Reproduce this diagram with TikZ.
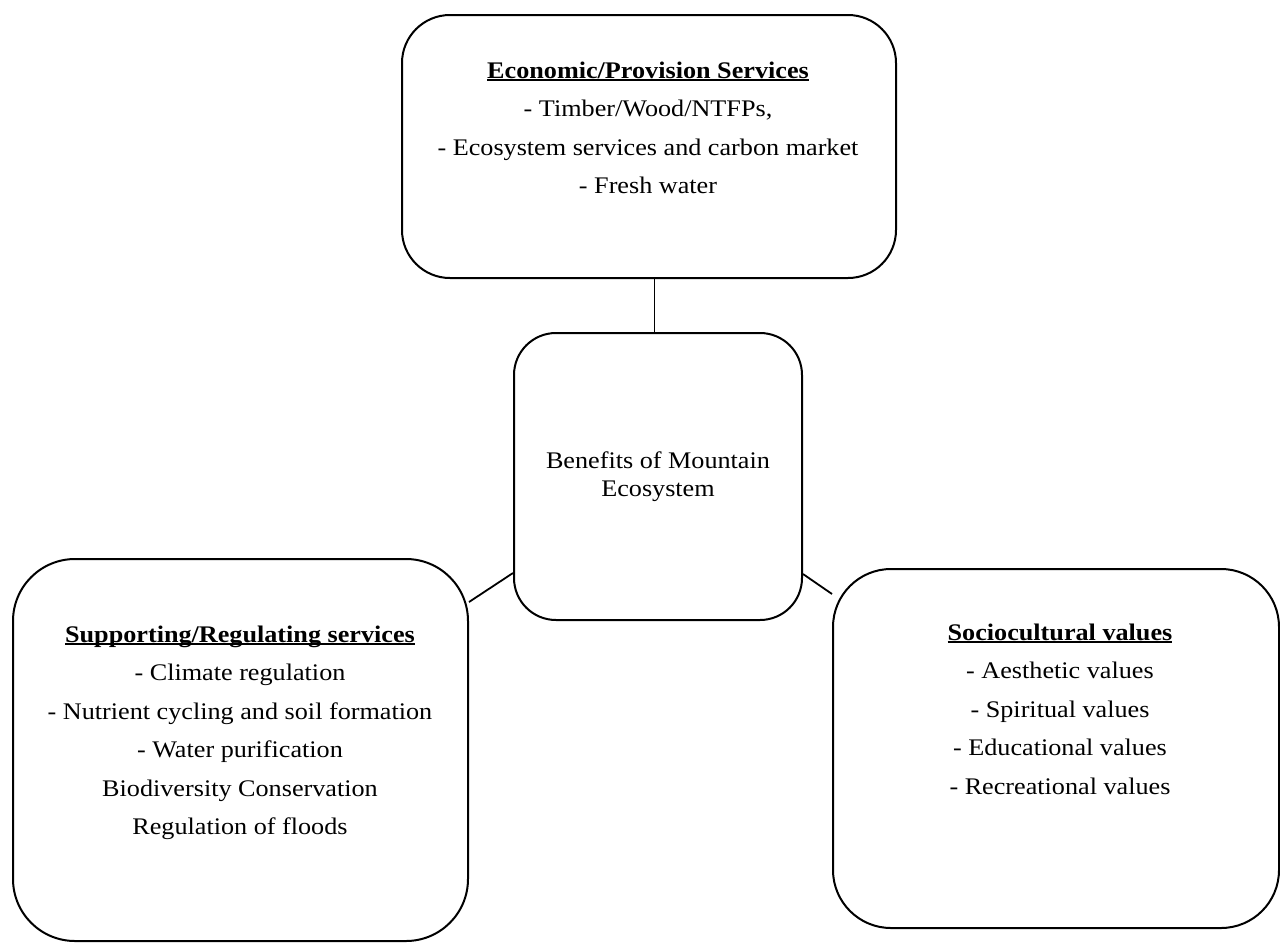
\documentclass[tikz,border=0pt]{standalone}
\usepackage{fontspec}
\setmainfont{Liberation Serif}[FakeStretch=1.1]
\usetikzlibrary{positioning, calc}
\newcommand{\headul}[1]{\setbox0\hbox{\textbf{#1}}\rlap{\rule[-2.6pt]{\wd0}{1.5pt}}\box0}

\begin{document}
\begin{tikzpicture}[x=1pt, y=-1pt,
    box/.style={draw, line width=2pt, inner sep=0pt},
    listtext/.style={align=center, inner sep=0pt, anchor=north,
      font=\fontsize{23.8}{38.5}\selectfont},
    link/.style={line width=1.8pt}]
  \useasboundingbox (0,0) rectangle (1280,943);

  % Central box
  \node[box, rounded corners=42pt, minimum width=288, minimum height=287,
        align=center, font=\fontsize{23.8}{28}\selectfont] (benefit) at (658,476.5)
    {Benefits of Mountain\\Ecosystem};

  % Top box
  \node[box, rounded corners=48pt, minimum width=494, minimum height=263] (econ) at (649,146.5) {};
  \node[listtext] (econtext) at (648,61.6)
    {\headul{Economic/Provision Services}\\- Timber/Wood/NTFPs,\\
     - Ecosystem services and carbon market\\- Fresh water};

  % Left box
  \node[box, rounded corners=62pt, minimum width=455, minimum height=382] (supp) at (240.5,750) {};
  \node[listtext] (supptext) at (240,625.6)
    {\headul{Supporting/Regulating services}\\- Climate regulation\\
     - Nutrient cycling and soil formation\\- Water purification\\
     Biodiversity Conservation\\Regulation of floods};

  % Right box
  \node[box, rounded corners=58pt, minimum width=446, minimum height=359] (socio) at (1056,748.5) {};
  \node[listtext] (sociotext) at (1060,623.6)
    {\headul{Sociocultural values}\\- Aesthetic values\\- Spiritual values\\
     - Educational values\\- Recreational values};

  % Connectors
  \draw[link] ([xshift=5.5pt]econ.south) -- ([xshift=-3.5pt]benefit.north);
  \draw[link] ([yshift=148pt]supp.east) -- ([yshift=-96.5pt]benefit.west);
  \draw[link] ([yshift=-97.5pt]benefit.east) -- ([yshift=154.5pt]socio.west);
\end{tikzpicture}
\end{document}
